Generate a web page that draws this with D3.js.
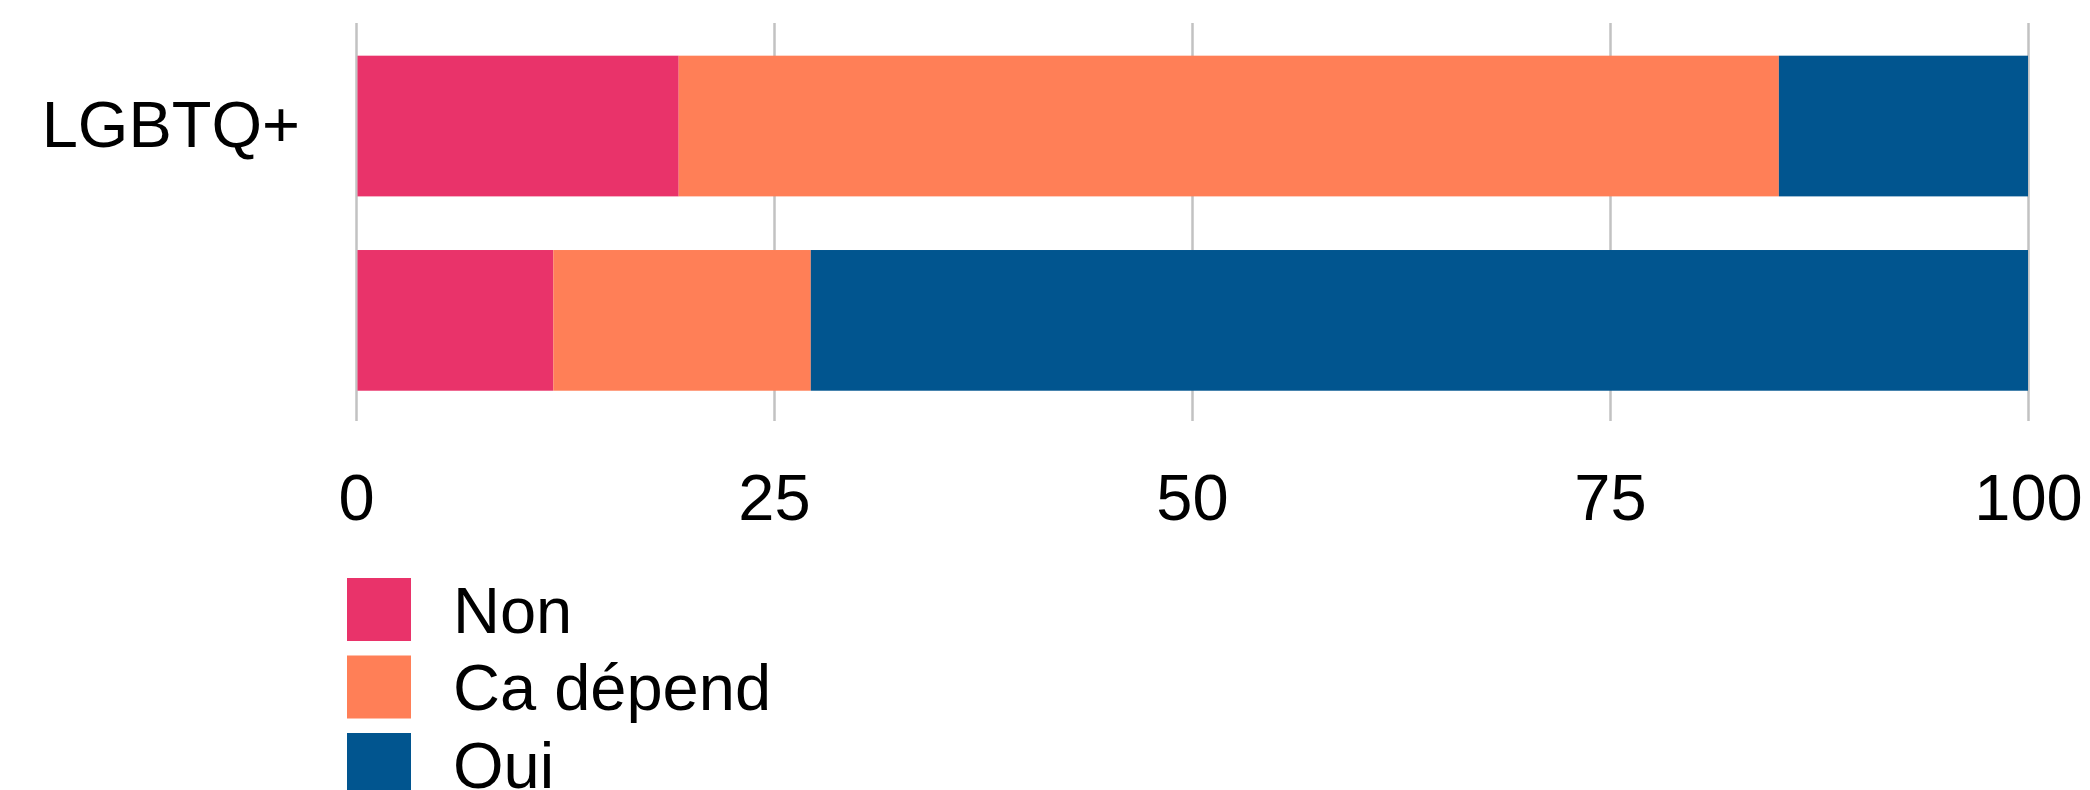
<!DOCTYPE html>
<html>
<head>
<meta charset="utf-8">
<script src="https://cdn.jsdelivr.net/npm/d3@7"></script>
<style>
  html, body { margin: 0; padding: 0; background: #ffffff; }
  svg { display: block; }
  text { font-family: "Liberation Sans", Arial, Helvetica, sans-serif; fill: #000; }
</style>
</head>
<body>
<svg id="chart" width="2090" height="790"></svg>
<script>
// Groups shown on the vertical axis (the second row carries no label)
const categories = ["LGBTQ+", ""];

// Answer shares per group, in percent
const seriesNames = ["Non", "Ca dépend", "Oui"];
const nonValues = [19.3, 11.8];
const caDependValues = [65.8, 15.4];
const ouiValues = [14.9, 72.8];
const seriesColors = ["#E9336A", "#FF7F57", "#01558F"];

const xTicks = [0, 25, 50, 75, 100];

const width = 2090, height = 790;
const margin = { left: 356, right: 62, top: 23 };
const plotBottom = 421;
const fontSize = 65;

const svg = d3.select("#chart");

const x = d3.scaleLinear()
  .domain([0, 100])
  .range([margin.left, width - margin.right]);

const y = d3.scaleBand()
  .domain(categories)
  .range([margin.top + 1.2, plotBottom + 1.2])
  .paddingInner(0.276)
  .paddingOuter(0.162);

const color = d3.scaleOrdinal().domain(seriesNames).range(seriesColors);

// Build rows for stacking
const rows = categories.map((c, i) => ({
  category: c,
  "Non": nonValues[i],
  "Ca dépend": caDependValues[i],
  "Oui": ouiValues[i]
}));
const stacked = d3.stack().keys(seriesNames)(rows);

// Vertical gridlines with tick labels underneath
const xAxis = d3.axisBottom(x)
  .tickValues(xTicks)
  .tickFormat(d3.format("d"))
  .tickSizeInner(-(plotBottom - margin.top))
  .tickSizeOuter(0)
  .tickPadding(53);

const gx = svg.append("g")
  .attr("transform", `translate(0,${plotBottom})`)
  .call(xAxis);
gx.select(".domain").remove();
gx.selectAll(".tick line").attr("stroke", "#c2c2c2").attr("stroke-width", 2.5);
gx.selectAll(".tick text")
  .attr("font-size", fontSize)
  .attr("font-family", "\"Liberation Sans\", Arial, Helvetica, sans-serif")
  .attr("fill", "#000");

// Stacked bars
svg.append("g")
  .selectAll("g")
  .data(stacked)
  .join("g")
  .attr("fill", d => color(d.key))
  .selectAll("rect")
  .data(d => d)
  .join("rect")
  .attr("x", d => x(d[0]) + (d[0] === 0 ? 1.5 : 0))
  .attr("y", d => y(d.data.category))
  .attr("width", d => x(d[1]) - x(d[0]) - (d[0] === 0 ? 1.5 : 0))
  .attr("height", y.bandwidth());

// Category labels
const yAxis = d3.axisLeft(y).tickSize(0).tickPadding(56);
const gy = svg.append("g")
  .attr("transform", `translate(${margin.left},0)`)
  .call(yAxis);
gy.select(".domain").remove();
gy.selectAll(".tick text")
  .attr("font-size", fontSize)
  .attr("font-family", "\"Liberation Sans\", Arial, Helvetica, sans-serif")
  .attr("fill", "#000");

// Legend
const legendX = 347, legendY = 578, swatch = 63, legendStep = 77.5;
const legend = svg.append("g")
  .selectAll("g")
  .data(seriesNames)
  .join("g")
  .attr("transform", (d, i) => `translate(${legendX},${legendY + i * legendStep})`);

legend.append("rect")
  .attr("width", 64)
  .attr("height", swatch)
  .attr("fill", d => color(d));

legend.append("text")
  .attr("x", 106)
  .attr("y", swatch / 2 + fontSize * 0.355)
  .attr("font-size", fontSize)
  .text(d => d);
</script>
</body>
</html>
